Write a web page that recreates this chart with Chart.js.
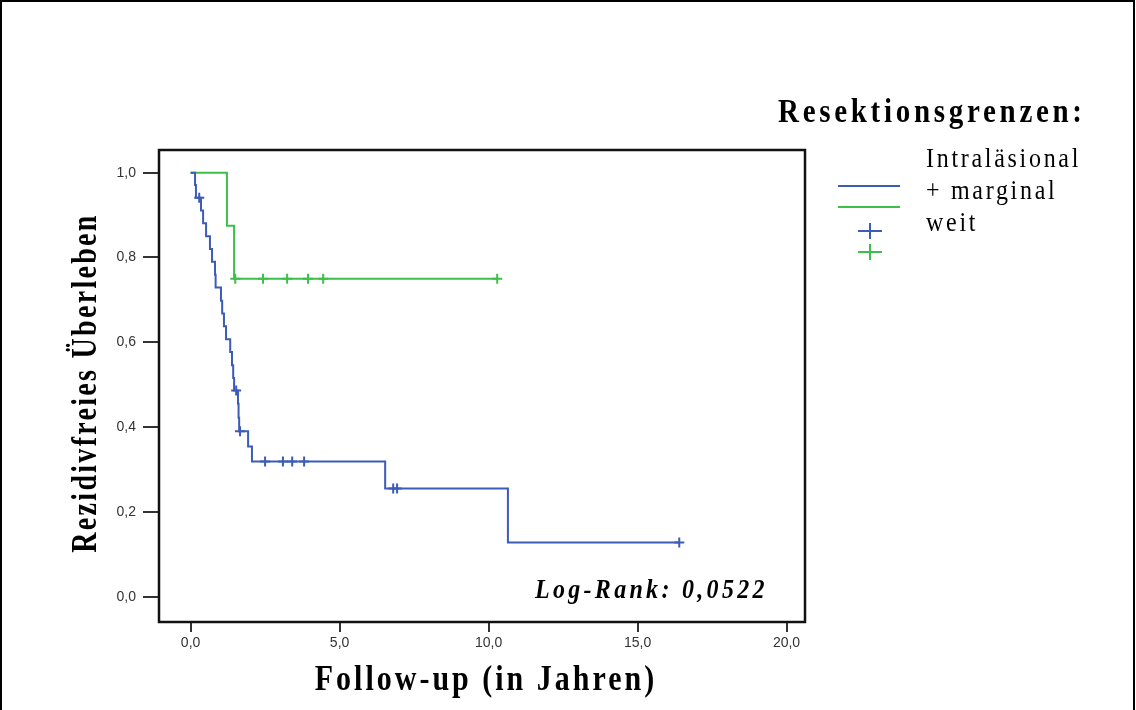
<!DOCTYPE html>
<html>
<head>
<meta charset="utf-8">
<script src="https://cdn.jsdelivr.net/npm/chart.js@4.4.0/dist/chart.umd.min.js"></script>
<style>
  html, body { margin: 0; padding: 0; background: #fff; }
  #wrap { position: relative; width: 1136px; height: 710px; }
</style>
</head>
<body>
<div id="wrap"><canvas id="kmChart"></canvas></div>
<script>
// tick labels
const xTicks = [0, 5, 10, 15, 20];
const yTicks = [0, 0.2, 0.4, 0.6, 0.8, 1.0];

// Intraläsional + marginal (blau): Zeitpunkt jeder Stufe und Überleben danach
const blueStepTimes = [0, 0.15, 0.18, 0.35, 0.42, 0.52, 0.65, 0.72, 0.82, 0.84, 1.02, 1.06, 1.12, 1.19, 1.33, 1.39, 1.43, 1.46, 1.59, 1.61, 1.63, 1.93, 2.06, 6.53, 10.65];
const blueSurvival = [1.0, 0.971, 0.941, 0.911, 0.881, 0.850, 0.820, 0.790, 0.759, 0.729, 0.698, 0.668, 0.638, 0.607, 0.577, 0.546, 0.516, 0.486, 0.455, 0.422, 0.390, 0.354, 0.319, 0.255, 0.128];
const blueCensored = [0.29, 1.53, 1.66, 2.5, 3.1, 3.41, 3.81, 6.8, 6.93, 16.4];

// weit (grün)
const greenStepTimes = [0, 1.22, 1.46];
const greenSurvival = [1.0, 0.875, 0.75];
const greenCensored = [1.5, 2.43, 3.24, 3.94, 4.45, 10.29];

const BLUE = '#3d5cb8';
const GREEN = '#3cc04a';

function levelAt(times, surv, t) {
    let s = surv[0];
    for (let i = 0; i < times.length; i++) {
        if (times[i] <= t) s = surv[i];
    }
    return s;
}

function stepCurve(times, surv, censored) {
    const pts = times.map((t, i) => ({x: t, y: surv[i]}));
    const end = Math.max(times[times.length - 1], ...censored);
    pts.push({x: end, y: surv[surv.length - 1]});
    return pts;
}

function censorPoints(times, surv, censored) {
    return censored.map(t => ({x: t, y: levelAt(times, surv, t)}));
}

// text with letter spacing and a slight vertical stretch like the original
function spacedText(ctx, text, x, y, font, spacing, align, stretch) {
    ctx.save();
    ctx.translate(x, y);
    ctx.scale(1, stretch || 1);
    ctx.font = font;
    ctx.letterSpacing = spacing + 'px';
    ctx.fillStyle = '#000';
    ctx.textBaseline = 'alphabetic';
    ctx.textAlign = align || 'left';
    ctx.fillText(text, 0, 0);
    ctx.restore();
}

const overlay = {
    id: 'overlay',
    beforeDraw(chart) {
        const ctx = chart.ctx;
        ctx.save();
        ctx.fillStyle = '#fff';
        ctx.fillRect(0, 0, chart.width, chart.height);
        ctx.strokeStyle = '#000';
        ctx.lineWidth = 2;
        ctx.beginPath();
        ctx.moveTo(1, chart.height);
        ctx.lineTo(1, 1);
        ctx.lineTo(chart.width - 2, 1);
        ctx.lineTo(chart.width - 2, chart.height);
        ctx.stroke();
        ctx.restore();
    },
    beforeDatasetsDraw(chart) {
        const a = chart.chartArea;
        const ctx = chart.ctx;
        ctx.save();
        ctx.strokeStyle = '#111';
        ctx.lineWidth = 2.5;
        ctx.strokeRect(a.left, a.top, a.right - a.left, a.bottom - a.top);
        ctx.restore();
    },
    afterDraw(chart) {
        const ctx = chart.ctx;

        // axis titles
        ctx.save();
        ctx.translate(96, 383);
        ctx.rotate(-Math.PI / 2);
        spacedText(ctx, 'Rezidivfreies Überleben', 0, 0, 'bold 28px "Liberation Serif"', 2.3, 'center', 1.25);
        ctx.restore();
        spacedText(ctx, 'Follow-up (in Jahren)', 486, 690, 'bold 30px "Liberation Serif"', 3, 'center', 1.22);

        // log-rank
        spacedText(ctx, 'Log-Rank: 0,0522', 535, 598, 'italic bold 24px "Liberation Serif"', 3.3, 'left', 1.15);

        // legend
        spacedText(ctx, 'Resektionsgrenzen:', 778, 122, 'bold 29px "Liberation Serif"', 3.7, 'left', 1.15);
        const lf = '24px "Liberation Serif"';
        spacedText(ctx, 'Intraläsional', 926, 167, lf, 2.7, 'left', 1.1);
        spacedText(ctx, '+ marginal', 926, 199, lf, 2.7, 'left', 1.1);
        spacedText(ctx, 'weit', 926, 231, lf, 2.7, 'left', 1.1);

        ctx.save();
        ctx.lineWidth = 2;
        [[BLUE, 186], [GREEN, 207]].forEach(([c, y]) => {
            ctx.strokeStyle = c;
            ctx.beginPath();
            ctx.moveTo(838, y);
            ctx.lineTo(900, y);
            ctx.stroke();
        });
        [[BLUE, 231], [GREEN, 252]].forEach(([c, y]) => {
            ctx.strokeStyle = c;
            ctx.beginPath();
            ctx.moveTo(858, y);
            ctx.lineTo(882, y);
            ctx.moveTo(870, y - 8);
            ctx.lineTo(870, y + 8);
            ctx.stroke();
        });
        ctx.restore();
    }
};

const tickFont = {family: '"Liberation Sans", Arial, sans-serif', size: 14};
const fmt = v => Number(v).toFixed(1).replace('.', ',');

const config = {
    type: 'scatter',
    data: {
        datasets: [
            {
                label: 'Intraläsional + marginal',
                data: stepCurve(blueStepTimes, blueSurvival, blueCensored),
                showLine: true,
                stepped: true,
                borderColor: BLUE,
                borderWidth: 2,
                pointRadius: 0
            },
            {
                label: 'weit',
                data: stepCurve(greenStepTimes, greenSurvival, greenCensored),
                showLine: true,
                stepped: true,
                borderColor: GREEN,
                borderWidth: 2,
                pointRadius: 0
            },
            {
                label: 'Intraläsional + marginal zensiert',
                data: censorPoints(blueStepTimes, blueSurvival, blueCensored),
                pointStyle: 'cross',
                pointRadius: 5,
                borderColor: BLUE,
                borderWidth: 2
            },
            {
                label: 'weit zensiert',
                data: censorPoints(greenStepTimes, greenSurvival, greenCensored),
                pointStyle: 'cross',
                pointRadius: 5,
                borderColor: GREEN,
                borderWidth: 2
            }
        ]
    },
    options: {
        responsive: true,
        maintainAspectRatio: false,
        animation: false,
        events: [],
        layout: {padding: {left: 0, right: 331, top: 150, bottom: 0}},
        plugins: {
            legend: {display: false},
            tooltip: {enabled: false}
        },
        scales: {
            x: {
                type: 'linear',
                min: -1.06,
                max: 20.62,
                afterBuildTicks: s => { s.ticks = xTicks.map(v => ({value: v})); },
                afterFit: s => { s.height = 88; },
                ticks: {callback: fmt, font: tickFont, color: '#333', padding: 3, maxRotation: 0},
                grid: {drawOnChartArea: false, drawTicks: true, tickLength: 10, color: '#333', lineWidth: 2},
                border: {display: false}
            },
            y: {
                type: 'linear',
                min: -0.0597,
                max: 1.0535,
                afterBuildTicks: s => { s.ticks = yTicks.map(v => ({value: v})); },
                afterFit: s => { s.width = 159; },
                ticks: {callback: fmt, font: tickFont, color: '#333', padding: 7},
                grid: {drawOnChartArea: false, drawTicks: true, tickLength: 16, color: '#333', lineWidth: 2},
                border: {display: false}
            }
        }
    },
    plugins: [overlay]
};

new Chart(document.getElementById('kmChart'), config);
</script>
</body>
</html>
